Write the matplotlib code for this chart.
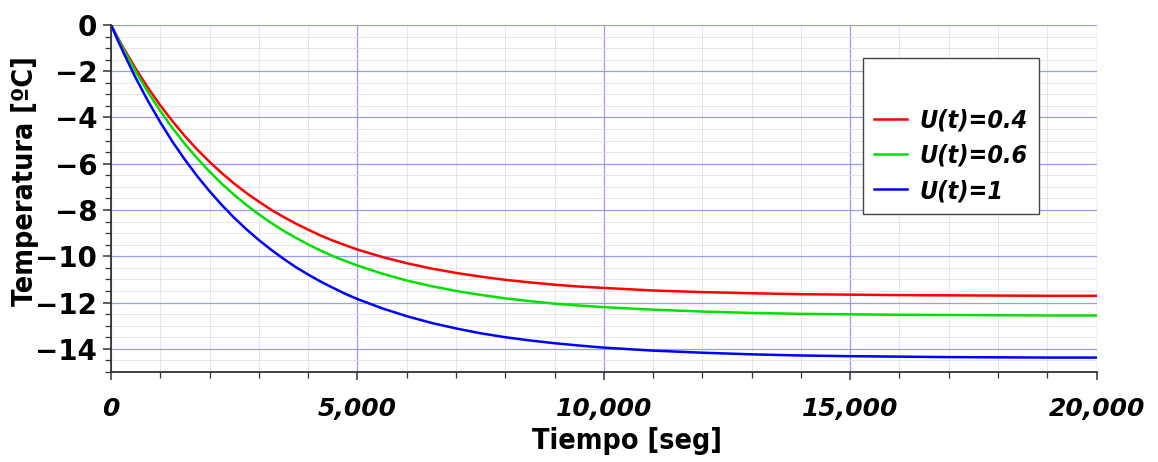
import numpy as np
import matplotlib.pyplot as plt
from matplotlib.ticker import MultipleLocator, FuncFormatter
from matplotlib.font_manager import FontProperties

# Datos
tiempo = [0, 125, 250, 500, 750, 1000, 1250, 1500, 1750, 2000, 2250, 2500,
          2750, 3000, 3250, 3500, 3750, 4000, 4250, 4500, 4750, 5000, 5500,
          6000, 6500, 7000, 7500, 8000, 8500, 9000, 9500, 10000, 11000, 12000,
          13000, 14000, 15000, 16000, 17000, 18000, 19000, 20000]

temp_u04 = [0, -0.50, -0.99, -1.89, -2.72, -3.48, -4.17, -4.81, -5.39, -5.92,
            -6.41, -6.86, -7.27, -7.64, -7.99, -8.30, -8.59, -8.85, -9.10,
            -9.32, -9.52, -9.71, -10.03, -10.30, -10.53, -10.72, -10.88,
            -11.02, -11.13, -11.23, -11.31, -11.37, -11.48, -11.55, -11.60,
            -11.64, -11.66, -11.68, -11.69, -11.70, -11.71, -11.71]

temp_u06 = [0, -0.54, -1.06, -2.02, -2.91, -3.72, -4.47, -5.15, -5.77, -6.34,
            -6.87, -7.35, -7.79, -8.19, -8.56, -8.90, -9.20, -9.49, -9.75,
            -9.99, -10.20, -10.40, -10.75, -11.05, -11.29, -11.50, -11.67,
            -11.82, -11.94, -12.05, -12.13, -12.20, -12.31, -12.39, -12.45,
            -12.49, -12.51, -12.53, -12.54, -12.55, -12.56, -12.56]

temp_u1 = [0, -0.61, -1.19, -2.29, -3.29, -4.21, -5.06, -5.83, -6.54, -7.19,
           -7.79, -8.34, -8.84, -9.30, -9.72, -10.11, -10.47, -10.79, -11.09,
           -11.36, -11.62, -11.85, -12.25, -12.59, -12.88, -13.12, -13.33,
           -13.50, -13.64, -13.76, -13.86, -13.95, -14.08, -14.17, -14.24,
           -14.29, -14.32, -14.34, -14.36, -14.37, -14.38, -14.38]

etiquetas = ['U(t)=0.4', 'U(t)=0.6', 'U(t)=1']
colores = ['#ff0000', '#00e000', '#0000ff']

fig = plt.figure(figsize=(11.58, 4.62), dpi=100)
ax = fig.add_axes([0.0959, 0.195, 0.851, 0.751])

for serie, lab, col in zip([temp_u04, temp_u06, temp_u1], etiquetas, colores):
    ax.plot(tiempo, serie, color=col, lw=1.8, label=lab)

ax.set_xlim(0, 20000)
ax.set_ylim(-15, 0)

ax.xaxis.set_major_locator(MultipleLocator(5000))
ax.xaxis.set_minor_locator(MultipleLocator(1000))
ax.yaxis.set_major_locator(MultipleLocator(2))
ax.yaxis.set_minor_locator(MultipleLocator(0.5))
ax.xaxis.set_major_formatter(FuncFormatter(lambda v, p: f'{v:,.0f}'))
ax.yaxis.set_major_formatter(FuncFormatter(lambda v, p: f'{v:.0f}'.replace('-', '\u2212')))

ax.grid(which='major', color='#9a9aff', lw=0.9)
ax.grid(which='minor', color='#e2e2e2', lw=0.6)
ax.set_axisbelow(True)

for s in ['top', 'right']:
    ax.spines[s].set_visible(False)
for s in ['left', 'bottom']:
    ax.spines[s].set_color('#333333')
    ax.spines[s].set_linewidth(1.3)

ax.tick_params(which='major', length=6, width=1.1, color='#333333')
ax.tick_params(which='minor', length=4, width=0.9, color='#333333')
ax.tick_params(axis='x', which='major', pad=12)
ax.tick_params(axis='y', which='major', pad=4)

for t in ax.get_yticklabels():
    t.set_fontsize(20)
    t.set_fontweight('bold')
for t in ax.get_xticklabels():
    t.set_fontsize(18)
    t.set_fontweight('bold')
    t.set_fontstyle('italic')

ax.set_xlabel('Tiempo [seg]', fontsize=20.5, fontweight='bold',
              fontstretch='condensed')
ax.set_ylabel('Temperatura [ºC]', fontsize=20.5, fontweight='bold',
              fontstretch='condensed')
ax.xaxis.set_label_coords(0.524, -0.158)
ax.yaxis.set_label_coords(-0.073, 0.55)

fuente_leyenda = FontProperties(family='DejaVu Sans', size=18, weight='bold',
                                style='italic', stretch='condensed')
leg = ax.legend(loc='upper left', bbox_to_anchor=(863 / 1158, 1 - 58 / 462),
                bbox_transform=fig.transFigure, borderaxespad=0, title=' ',
                fancybox=False, framealpha=1, edgecolor='#444444',
                handlelength=1.3, handletextpad=0.5, labelspacing=0.45,
                borderpad=0.45, prop=fuente_leyenda, title_fontsize=20)
leg.get_frame().set_linewidth(1.0)

fig.savefig('out.png', dpi=100)
